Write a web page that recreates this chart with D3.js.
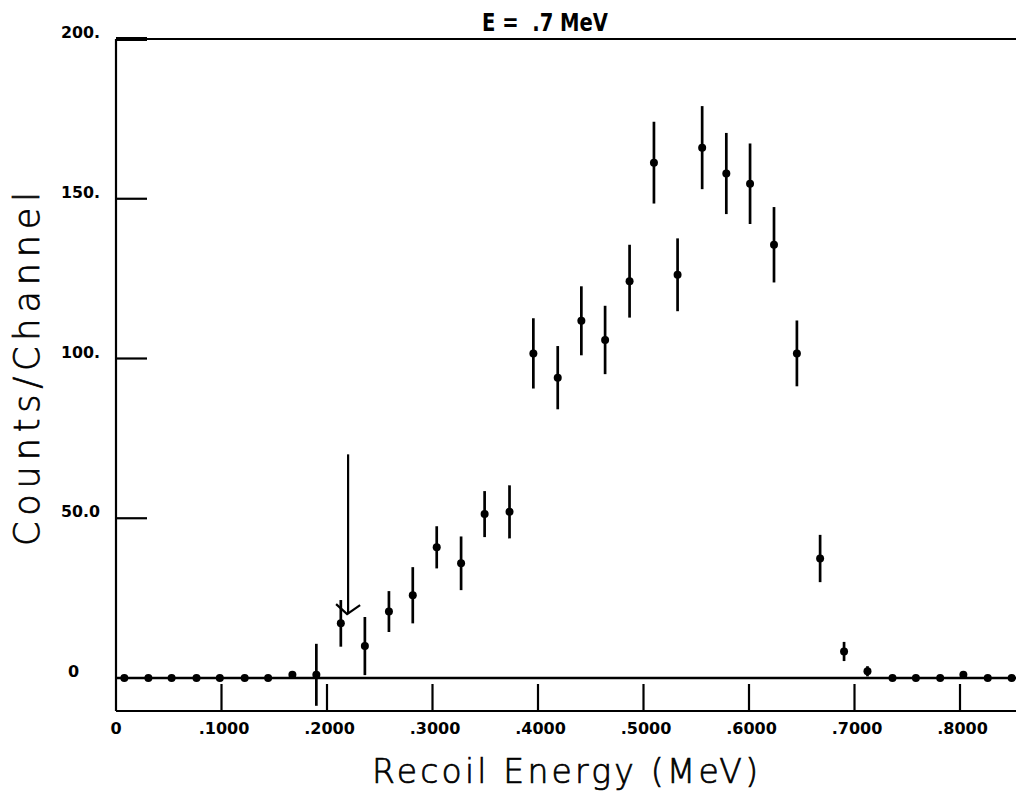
<!DOCTYPE html>
<html>
<head>
<meta charset="utf-8">
<script src="https://cdn.jsdelivr.net/npm/d3@7"></script>
<style>
  html, body { margin: 0; padding: 0; background: #fff; }
  svg { display: block; }
</style>
</head>
<body>
<svg id="chart" width="1016" height="794"></svg>
<script>
// ---- data ----
const energy = [0.0079,0.0307,0.0527,0.0763,0.0984,0.1220,0.1442,0.1672,0.1899,0.2131,
                0.2359,0.2587,0.2813,0.3040,0.3271,0.3494,0.3730,0.3956,0.4187,0.4411,
                0.4636,0.4868,0.5099,0.5323,0.5556,0.5785,0.6010,0.6237,0.6454,0.6674,
                0.6901,0.7123,0.7360,0.7582,0.7812,0.8032,0.8263,0.8490];
const counts = [0,0,0,0,0,0,0,1,1,17.1,
                10,20.8,25.9,40.9,35.9,51.3,52,101.6,94,111.8,
                105.8,124.2,161.3,126.2,166,157.9,154.7,135.6,101.6,37.4,
                8.3,2.1,0,0,0,1,0,0];
const errors = [0,0,0,0,0,0,0,1,9.7,7.3,
                9.1,6.4,8.8,6.6,8.4,7.2,8.3,11,9.9,10.8,
                10.7,11.4,12.8,11.4,13,12.7,12.6,11.8,10.3,7.4,
                3,1.6,0,0,0,1,0,0];
const xTickValues = [0.1,0.2,0.3,0.4,0.5,0.6,0.7,0.8];
const xTickLabels = [".1000",".2000",".3000",".4000",".5000",".6000",".7000",".8000"];
const yTickValues = [0,50,100,150,200];
const yTickLabels = ["0","50.0","100.","150.","200."];
const arrowEnergy = 0.220;
const arrowFrom = 70;
const arrowTo = 20;
const titleText = "E =  .7 MeV";
const xTitle = "Recoil Energy (MeV)";
const yTitle = "Counts/Channel";

(function () {
// ---- layout ----
const svg = d3.select("#chart");
const pL = 116, pR = 1016, pT = 39, zeroY = 678, pB = 711;
const x = d3.scaleLinear().domain([0, (pR - pL) / 1055]).range([pL, pR]);
const y = d3.scaleLinear().domain([0, 200]).range([zeroY, pT]);

const g = svg.append("g").attr("stroke", "#000").attr("fill", "none");

// frame: left axis, top line, bottom line, zero line
g.append("line").attr("x1", pL).attr("x2", pL).attr("y1", pT).attr("y2", pB).attr("stroke-width", 2.2);
g.append("line").attr("x1", pL).attr("x2", pR).attr("y1", pT).attr("y2", pT).attr("stroke-width", 2);
g.append("line").attr("x1", pL).attr("x2", pR).attr("y1", pB).attr("y2", pB).attr("stroke-width", 2.2);
g.append("line").attr("x1", pL).attr("x2", pR).attr("y1", y(0)).attr("y2", y(0)).attr("stroke-width", 2.4);

// y ticks (short horizontal marks)
g.selectAll(".ytick").data(yTickValues.filter(v => v > 0)).join("line")
  .attr("x1", pL).attr("x2", pL + 31)
  .attr("y1", d => y(d)).attr("y2", d => y(d))
  .attr("stroke-width", d => d === 200 ? 4 : 2.2);

// x ticks (rise from the bottom line)
g.selectAll(".xtick").data(xTickValues).join("line")
  .attr("x1", d => x(d)).attr("x2", d => x(d))
  .attr("y1", pB).attr("y2", pB - 27)
  .attr("stroke-width", 2.2);

// tick labels
const lab = svg.append("g").attr("font-family", "'DejaVu Sans', sans-serif")
  .attr("font-weight", "bold").attr("font-size", 16).attr("fill", "#000");
lab.selectAll(".yl").data(yTickValues).join("text")
  .attr("x", d => d === 0 ? 68 : 61)
  .attr("y", d => y(d) - 1)
  .attr("textLength", d => d === 0 ? null : 39)
  .attr("lengthAdjust", "spacingAndGlyphs")
  .text((d, i) => yTickLabels[i]);
lab.append("text").attr("x", x(0)).attr("y", 734).attr("text-anchor", "middle").text("0");
lab.selectAll(".xl").data(xTickValues).join("text")
  .attr("x", d => x(d) + 2.5).attr("y", 734).attr("text-anchor", "middle")
  .text((d, i) => xTickLabels[i]);

// title
svg.append("text").attr("x", 482).attr("y", 31)
  .attr("font-family", "'DejaVu Sans', sans-serif").attr("font-weight", "bold").attr("font-size", 24)
  .attr("textLength", 126).attr("lengthAdjust", "spacingAndGlyphs")
  .style("white-space", "pre")
  .text(titleText);

// axis titles
svg.append("text").attr("x", 372).attr("y", 783)
  .attr("font-family", "'DejaVu Sans', sans-serif").attr("font-weight", 200).attr("font-size", 33)
  .attr("stroke", "#000").attr("stroke-width", 0.7)
  .attr("textLength", 386).attr("lengthAdjust", "spacing")
  .text(xTitle);
svg.append("text")
  .attr("transform", "translate(39,546) rotate(-90)")
  .attr("font-family", "'DejaVu Sans', sans-serif").attr("font-weight", 200).attr("font-size", 35)
  .attr("stroke", "#000").attr("stroke-width", 0.7)
  .attr("textLength", 354).attr("lengthAdjust", "spacing")
  .text(yTitle);

// data: error bars + dots
const pts = energy.map((e, i) => ({ e, c: counts[i], err: errors[i] }));
const dg = svg.append("g");
dg.selectAll(".err").data(pts.filter(p => p.err > 0)).join("line")
  .attr("x1", p => x(p.e)).attr("x2", p => x(p.e))
  .attr("y1", p => y(p.c + p.err)).attr("y2", p => y(p.c - p.err))
  .attr("stroke", "#000").attr("stroke-width", 2.7);
dg.selectAll(".dot").data(pts).join("circle")
  .attr("cx", p => x(p.e)).attr("cy", p => y(p.c)).attr("r", 4)
  .attr("fill", "#000");

// arrow marker
const ax = x(arrowEnergy), ay = y(arrowTo);
g.append("line").attr("x1", ax).attr("x2", ax).attr("y1", y(arrowFrom)).attr("y2", ay).attr("stroke-width", 2.2);
g.append("path")
  .attr("d", `M${ax - 12},${ay - 10} L${ax - 1},${ay} L${ax + 12},${ay - 9}`)
  .attr("stroke-width", 2.2);
})();
</script>
</body>
</html>
